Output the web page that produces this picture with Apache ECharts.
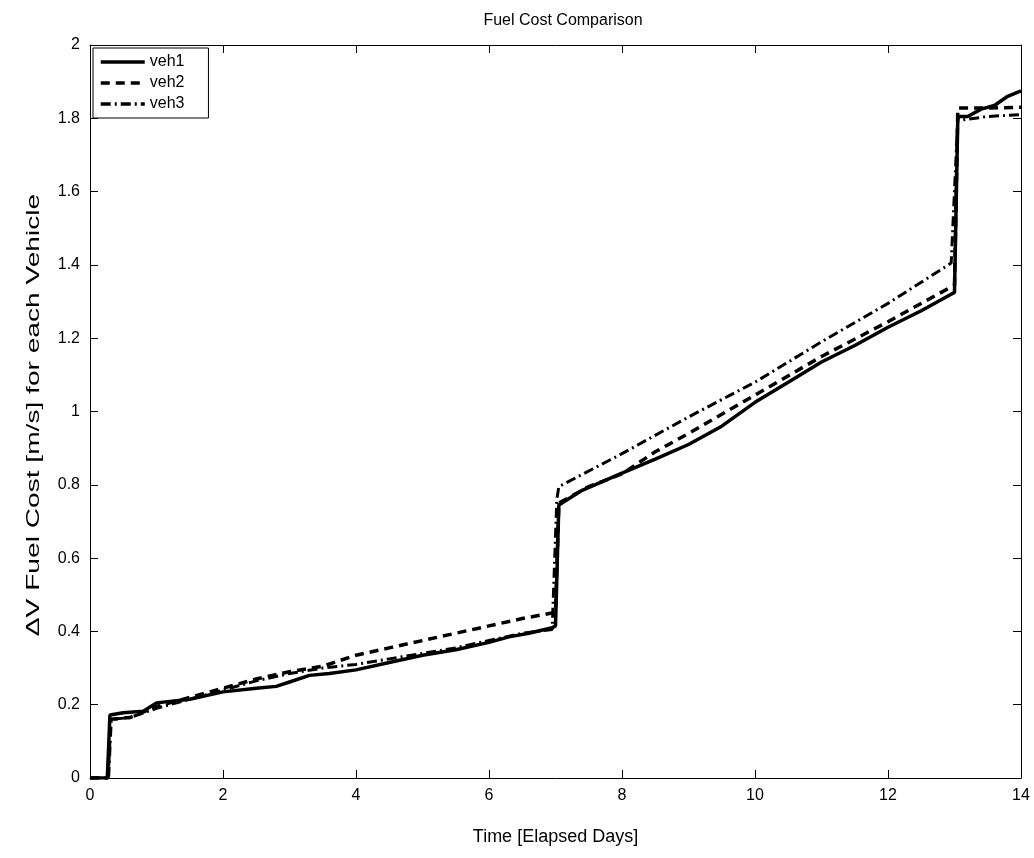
<!DOCTYPE html>
<html>
<head>
<meta charset="utf-8">
<script src="https://cdn.jsdelivr.net/npm/echarts@6/dist/echarts.min.js"></script>
<style>
  html, body { margin: 0; padding: 0; background: #fff; }
  #main { width: 1034px; height: 858px; }
</style>
</head>
<body>
<div id="main"></div>
<script>
// 每辆车的燃料消耗 (天数, ΔV)
var veh1Days = [0, 0.26, 0.3, 0.5, 0.8, 1.0, 1.5, 2.0, 2.5, 2.8, 3.0, 3.3, 3.6, 4.0, 4.5, 5.0, 5.5, 6.0, 6.3, 6.6, 6.95, 7.0, 7.05, 7.4, 8.0, 8.5, 9.0, 9.5, 10.0, 10.5, 11.0, 11.5, 12.0, 12.5, 12.95, 13.0, 13.05, 13.2, 13.4, 13.6, 13.8, 14.0];
var veh1Vals = [0, 0, 0.172, 0.178, 0.182, 0.205, 0.215, 0.235, 0.245, 0.25, 0.262, 0.28, 0.285, 0.295, 0.315, 0.335, 0.35, 0.37, 0.385, 0.395, 0.41, 0.415, 0.745, 0.785, 0.832, 0.87, 0.91, 0.96, 1.025, 1.08, 1.135, 1.18, 1.23, 1.275, 1.32, 1.325, 1.805, 1.805, 1.825, 1.835, 1.86, 1.875];

var veh2Days = [0, 0.27, 0.31, 0.6, 1.0, 1.5, 2.0, 2.5, 3.0, 3.5, 4.0, 4.5, 5.0, 5.5, 6.0, 6.5, 7.0, 7.05, 7.5, 8.0, 8.5, 9.0, 10.0, 11.0, 12.0, 12.9, 13.0, 13.05, 13.5, 14.0];
var veh2Vals = [0, 0, 0.16, 0.165, 0.195, 0.22, 0.245, 0.27, 0.29, 0.305, 0.335, 0.355, 0.375, 0.395, 0.415, 0.435, 0.452, 0.75, 0.795, 0.83, 0.89, 0.94, 1.045, 1.15, 1.245, 1.335, 1.345, 1.828, 1.828, 1.83];

var veh3Days = [0, 0.28, 0.32, 0.6, 1.0, 1.5, 2.0, 2.5, 3.0, 3.5, 4.0, 4.5, 5.0, 5.5, 6.0, 6.5, 6.95, 7.02, 7.05, 8.0, 9.0, 10.0, 11.0, 12.0, 12.95, 13.05, 13.1, 13.5, 14.0];
var veh3Vals = [0, 0, 0.16, 0.165, 0.19, 0.215, 0.24, 0.265, 0.285, 0.3, 0.31, 0.325, 0.34, 0.355, 0.375, 0.395, 0.405, 0.76, 0.795, 0.885, 0.985, 1.08, 1.19, 1.295, 1.405, 1.80, 1.795, 1.805, 1.81];

function pairs(days, vals) {
    var d = [];
    for (var i = 0; i < days.length; i++) {
        d.push([days[i], vals[i]]);
    }
    return d;
}

var myChart = echarts.init(document.getElementById('main'));

var font = 'Liberation Sans, Arial, sans-serif';
var axisCommon = {
    axisLine: { show: true, onZero: false, lineStyle: { color: '#000', width: 1 } },
    axisTick: { show: true, inside: true, length: 8, lineStyle: { color: '#000' } },
    splitLine: { show: false }
};

var option = {
    backgroundColor: '#fff',
    animation: false,
    title: {
        text: 'Fuel Cost Comparison',
        left: 558,
        textAlign: 'center',
        top: 8,
        textStyle: { fontFamily: font, fontWeight: 'normal', fontSize: 16, color: '#000' }
    },
    // y轴标题 (原图中文字被拉长)
    graphic: [{
        type: 'text',
        x: 34,
        y: 415,
        rotation: Math.PI / 2,
        scaleX: 1.48,
        style: {
            text: '\u0394V Fuel Cost [m/s] for each Vehicle',
            font: '19px Liberation Sans, Arial, sans-serif',
            fill: '#000',
            align: 'center',
            verticalAlign: 'middle'
        }
    }],
    legend: {
        left: 93,
        top: 48,
        orient: 'vertical',
        itemWidth: 44,
        itemHeight: 16,
        itemGap: 5,
        padding: [6, 24, 6, 6],
        backgroundColor: '#fff',
        borderColor: '#000',
        borderWidth: 1,
        borderRadius: 0,
        itemStyle: { opacity: 0 },
        lineStyle: { width: 3.5 },
        textStyle: { fontFamily: font, fontSize: 16, color: '#000' },
        data: ['veh1', 'veh2', 'veh3']
    },
    grid: { left: 90, right: 13, top: 45, bottom: 80, containLabel: false },
    xAxis: [
        Object.assign({
            type: 'value', min: 0, max: 14, interval: 2,
            name: 'Time [Elapsed Days]',
            nameLocation: 'middle',
            nameGap: 50,
            nameTextStyle: { fontFamily: font, fontSize: 18, color: '#000' },
            axisLabel: { fontFamily: font, fontSize: 16, color: '#000', margin: 10 }
        }, axisCommon),
        Object.assign({
            type: 'value', min: 0, max: 14, interval: 2, position: 'top',
            axisLabel: { show: false }
        }, axisCommon)
    ],
    yAxis: [
        Object.assign({
            type: 'value', min: 0, max: 2, interval: 0.2,
            axisLabel: { fontFamily: font, fontSize: 16, color: '#000', margin: 10 }
        }, axisCommon),
        Object.assign({
            type: 'value', min: 0, max: 2, interval: 0.2, position: 'right',
            axisLabel: { show: false }
        }, axisCommon)
    ],
    series: [
        {
            name: 'veh1', type: 'line', showSymbol: false, symbol: 'none',
            lineStyle: { color: '#000', width: 3.5, type: 'solid' },
            itemStyle: { color: '#000' },
            data: pairs(veh1Days, veh1Vals)
        },
        {
            name: 'veh2', type: 'line', showSymbol: false, symbol: 'none',
            lineStyle: { color: '#000', width: 3.5, type: [9, 6] },
            itemStyle: { color: '#000' },
            data: pairs(veh2Days, veh2Vals)
        },
        {
            name: 'veh3', type: 'line', showSymbol: false, symbol: 'none',
            lineStyle: { color: '#000', width: 3, type: [10, 4, 2, 4] },
            itemStyle: { color: '#000' },
            data: pairs(veh3Days, veh3Vals)
        }
    ]
};

myChart.setOption(option);
</script>
</body>
</html>
